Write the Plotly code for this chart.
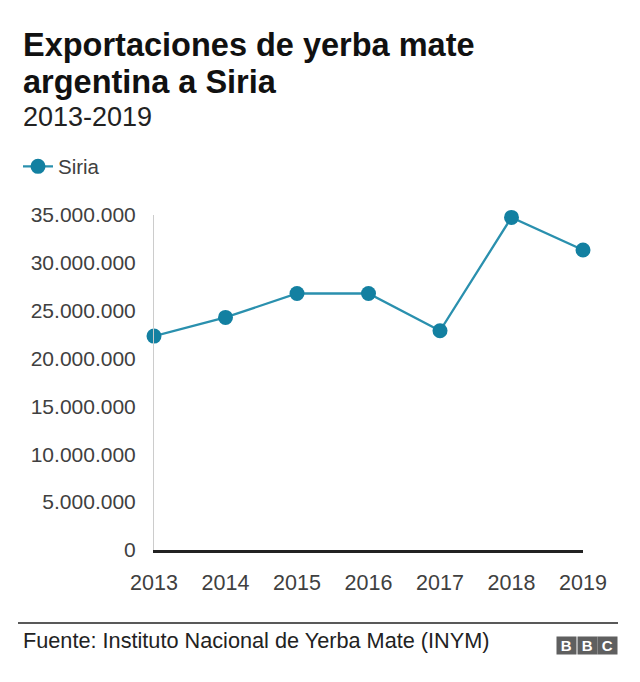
import plotly.graph_objects as go

years = [2013, 2014, 2015, 2016, 2017, 2018, 2019]
siria = [22350000, 24300000, 26800000, 26800000, 22900000, 34750000, 31350000]
y_ticks = [0, 5000000, 10000000, 15000000, 20000000, 25000000, 30000000, 35000000]

W, H = 640, 682
L, R, T, B = 154, 57, 215, 132
PW, PH = W - L - R, H - T - B

def px(x):
    return (x - L) / PW

def py(y):
    return (H - B - y) / PH

FONT = "Liberation Sans, Arial, Helvetica, sans-serif"
BLUE = "#1380A1"

fig = go.Figure()
fig.add_trace(go.Scatter(
    x=years, y=siria, name="Siria", mode="lines+markers",
    line=dict(color="#2a90ae", width=2.3),
    marker=dict(color=BLUE, size=15),
    cliponaxis=False,
))

annotations = [
    dict(text="<b>Exportaciones de yerba mate</b>", x=px(21), y=py(45), xref="paper", yref="paper",
         xanchor="left", yanchor="middle", showarrow=False, font=dict(size=32.5, color="#111111", family=FONT)),
    dict(text="<b>argentina a Siria</b>", x=px(21), y=py(82), xref="paper", yref="paper",
         xanchor="left", yanchor="middle", showarrow=False, font=dict(size=32.5, color="#111111", family=FONT)),
    dict(text="2013-2019", x=px(21), y=py(117), xref="paper", yref="paper",
         xanchor="left", yanchor="middle", showarrow=False, font=dict(size=27, color="#222222", family=FONT)),
    dict(text="Fuente: Instituto Nacional de Yerba Mate (INYM)", x=px(21), y=py(640), xref="paper", yref="paper",
         xanchor="left", yanchor="middle", showarrow=False, font=dict(size=21.7, color="#222222", family=FONT)),
]
for i, letter in enumerate("BBC"):
    cx = 566.5 + i * 20.5
    annotations.append(dict(
        text="<b>" + letter + "</b>", x=px(cx), y=py(645), xref="paper", yref="paper",
        xanchor="center", yanchor="middle", showarrow=False,
        width=18.5, height=17, bgcolor="#5f5f5f", borderpad=0,
        font=dict(size=15, color="white", family=FONT)))

fig.update_layout(
    width=W, height=H,
    margin=dict(l=L, r=R, t=T, b=B, pad=0),
    paper_bgcolor="white", plot_bgcolor="white",
    separators=",.",
    font=dict(family=FONT, color="#404040"),
    showlegend=True,
    legend=dict(orientation="h", xref="container", yref="container",
                x=18 / W, y=1 - 166.5 / H, xanchor="left", yanchor="middle",
                font=dict(size=20.5, color="#404040"), itemwidth=30,
                bgcolor="rgba(0,0,0,0)"),
    xaxis=dict(range=[2013, 2019], tickvals=years, showgrid=False, zeroline=False,
               showline=True, linecolor="#222222", linewidth=2.5,
               ticks="", ticklabelstandoff=11,
               tickfont=dict(size=21.5, color="#404040")),
    yaxis=dict(range=[0, 35000000], tickvals=y_ticks, tickformat=",.0f",
               showgrid=False, zeroline=False,
               showline=True, linecolor="#cccccc", linewidth=1,
               ticks="", ticklabelstandoff=13,
               tickfont=dict(size=21, color="#404040")),
    annotations=annotations,
    shapes=[dict(type="line", xref="paper", yref="paper", x0=px(18), x1=px(618),
                 y0=py(623), y1=py(623), line=dict(color="#222222", width=1.5))],
)

fig.write_html("out.html", config={"displayModeBar": False},
               post_script="document.body.style.margin='0';document.body.style.padding='0';")
